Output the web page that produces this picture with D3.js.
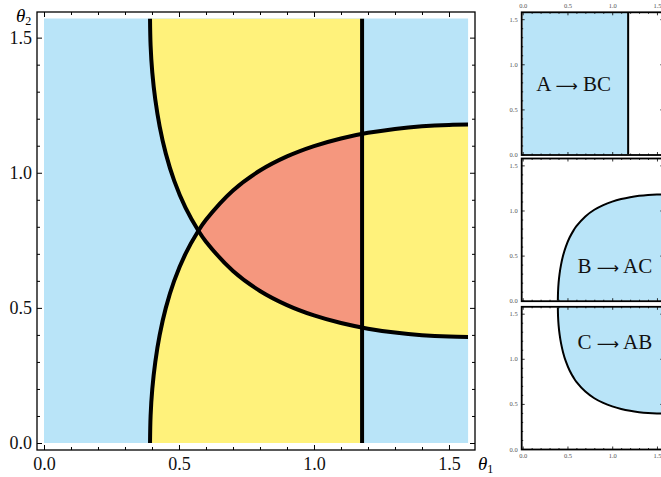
<!DOCTYPE html>
<html>
<head>
<meta charset="utf-8">
<script src="https://cdn.jsdelivr.net/npm/d3@7"></script>
<style>
  html, body { margin: 0; padding: 0; background: #ffffff; }
  svg { display: block; }
</style>
</head>
<body>
<script>
// Decay-channel regions over the two mixing angles (θ1, θ2), both in [0, π/2].
const HALF_PI = Math.PI / 2;

// Boundary of the A → BC region: a vertical line in θ1.
const aTheta1 = 1.1781;

// Boundary of the B → AC region (channel open below/right of this curve).
const bTheta1 = [0.3927, 0.3948, 0.4011, 0.4122, 0.4285, 0.4512, 0.4821, 0.5240, 0.5719, 0.60, 0.70, 0.80, 0.90, 1.00, 1.10, 1.20, 1.30, 1.40, 1.50, 1.5708];
const bTheta2 = [0.0, 0.10, 0.20, 0.30, 0.40, 0.50, 0.60, 0.70, 0.7854, 0.8258, 0.9343, 1.0081, 1.0604, 1.0987, 1.1270, 1.1477, 1.1623, 1.1720, 1.1771, 1.1781];

// Boundary of the C → AB region (channel open above/right of this curve).
const cTheta1 = [0.3927, 0.3948, 0.4011, 0.4122, 0.4285, 0.4512, 0.4821, 0.5240, 0.5719, 0.60, 0.70, 0.80, 0.90, 1.00, 1.10, 1.20, 1.30, 1.40, 1.50, 1.5708];
const cTheta2 = [1.5708, 1.4708, 1.3708, 1.2708, 1.1708, 1.0708, 0.9708, 0.8708, 0.7854, 0.7450, 0.6365, 0.5627, 0.5104, 0.4721, 0.4438, 0.4231, 0.4085, 0.3988, 0.3937, 0.3927];

// Axis ticks
const majorTicks = [0.0, 0.5, 1.0, 1.5];
const majorLabels = ["0.0", "0.5", "1.0", "1.5"];
const minorTicks = [0.1, 0.2, 0.3, 0.4, 0.6, 0.7, 0.8, 0.9, 1.1, 1.2, 1.3, 1.4];

// Channel labels (parent, products) and where they sit inside their panels (θ1, θ2)
const channelParent = ["A", "B", "C"];
const channelProducts = ["BC", "AC", "AB"];
const channelLabelAt = [[0.57, 0.78], [1.03, 0.38], [1.03, 1.18]];

const COL_ONE = "#b9e4f8";    // one channel open
const COL_TWO = "#fff27b";    // two channels open
const COL_THREE = "#f5977e";  // all three channels open
const SERIF = "'Liberation Serif', 'Times New Roman', serif";

const ptsB = bTheta1.map((t, i) => [t, bTheta2[i]]);
const ptsC = cTheta1.map((t, i) => [t, cTheta2[i]]);

const svg = d3.select("body").append("svg")
  .attr("width", 661).attr("height", 477);
const defs = svg.append("defs");

function curveD(pts, xs, ys) {
  return d3.line()
    .x(d => xs(d[0])).y(d => ys(d[1]))
    .curve(d3.curveCatmullRom.alpha(0.5))(pts);
}
// area where B → AC is open: under the B curve
function regionB(xs, ys) {
  return curveD(ptsB, xs, ys) + `L${xs(HALF_PI)},${ys(0)}Z`;
}
// area where C → AB is open: above the C curve
function regionC(xs, ys) {
  return curveD(ptsC, xs, ys) + `L${xs(HALF_PI)},${ys(HALF_PI)}Z`;
}
function clipRect(id, x0, y0, x1, y1) {
  defs.append("clipPath").attr("id", id).append("rect")
    .attr("x", Math.min(x0, x1)).attr("y", Math.min(y0, y1))
    .attr("width", Math.abs(x1 - x0)).attr("height", Math.abs(y1 - y0));
  return `url(#${id})`;
}
function clipPathD(id, d) {
  defs.append("clipPath").attr("id", id).append("path").attr("d", d);
  return `url(#${id})`;
}

// Inward ticks on all four sides of a frame
function frameAxes(g, xs, ys, box, opt) {
  const mk = (axisFn, scale, vals, size, labels, pad) => {
    const a = axisFn(scale).tickValues(vals).tickSizeInner(size).tickSizeOuter(0)
      .tickPadding(pad).tickFormat((d) => labels ? labels[majorTicks.indexOf(d)] : "");
    return a;
  };
  const sides = [
    { fn: d3.axisBottom, sc: xs, tr: `translate(0,${box.y1})`, lab: opt.bottomLabels },
    { fn: d3.axisTop, sc: xs, tr: `translate(0,${box.y0})`, lab: opt.topLabels },
    { fn: d3.axisLeft, sc: ys, tr: `translate(${box.x0},0)`, lab: opt.leftLabels },
    { fn: d3.axisRight, sc: ys, tr: `translate(${box.x1},0)`, lab: false }
  ];
  sides.forEach(s => {
    const major = g.append("g").attr("transform", s.tr)
      .call(mk(s.fn, s.sc, majorTicks, -opt.major, s.lab ? majorLabels : null, opt.pad(s.fn)));
    const minor = g.append("g").attr("transform", s.tr)
      .call(mk(s.fn, s.sc, minorTicks, -opt.minor, null, 0));
    [major, minor].forEach(ax => {
      ax.select(".domain").remove();
      ax.selectAll(".tick line").attr("stroke", "#000").attr("stroke-width", opt.tickWidth);
      ax.selectAll("text").attr("font-family", SERIF).attr("font-size", opt.fontSize)
        .attr("fill", opt.textColor);
    });
  });
  g.append("rect")
    .attr("x", box.x0).attr("y", box.y0)
    .attr("width", box.x1 - box.x0).attr("height", box.y1 - box.y0)
    .attr("fill", "none").attr("stroke", "#000").attr("stroke-width", opt.frameWidth);
}

// ---------------- main chart ----------------
const x = d3.scaleLinear().domain([0, HALF_PI]).range([44, 468.1]);
const y = d3.scaleLinear().domain([0, HALF_PI]).range([443, 18.5]);
const main = svg.append("g");

const mx0 = x(0), mx1 = x(HALF_PI), my0 = y(HALF_PI), my1 = y(0);
const clipDomain = clipRect("main-domain", mx0, my0, mx1, my1);
const clipA = clipRect("main-a", mx0, my0, x(aTheta1), my1);
const clipNotA = clipRect("main-not-a", x(aTheta1), my0, mx1, my1);
const clipB = clipPathD("main-b", regionB(x, y));

main.append("rect").attr("x", mx0).attr("y", my0)
  .attr("width", mx1 - mx0).attr("height", my1 - my0).attr("fill", COL_ONE);

// left of the A boundary: B or C adds a second open channel
const gA = main.append("g").attr("clip-path", clipA);
gA.append("path").attr("d", regionB(x, y)).attr("fill", COL_TWO);
gA.append("path").attr("d", regionC(x, y)).attr("fill", COL_TWO);
// A, B and C all open
gA.append("g").attr("clip-path", clipB)
  .append("path").attr("d", regionC(x, y)).attr("fill", COL_THREE);
// right of the A boundary: B and C together give two channels
main.append("g").attr("clip-path", clipNotA)
  .append("g").attr("clip-path", clipB)
  .append("path").attr("d", regionC(x, y)).attr("fill", COL_TWO);

// boundary lines
const lines = main.append("g").attr("clip-path", clipDomain)
  .attr("fill", "none").attr("stroke", "#000").attr("stroke-width", 4);
lines.append("path").attr("d", curveD(ptsB, x, y));
lines.append("path").attr("d", curveD(ptsC, x, y));
lines.append("line").attr("x1", x(aTheta1)).attr("x2", x(aTheta1))
  .attr("y1", my0).attr("y2", my1);

frameAxes(main, x, y, { x0: 37, x1: 475, y0: 12, y1: 450 }, {
  major: 5, minor: 3, tickWidth: 1, frameWidth: 1.3, fontSize: 18, textColor: "#111",
  bottomLabels: true, topLabels: false, leftLabels: true,
  pad: fn => fn === d3.axisBottom ? 7 : 5
});

// axis titles
const t2 = main.append("text").attr("x", 16).attr("y", 22)
  .attr("font-family", SERIF).attr("font-size", 19);
t2.append("tspan").attr("font-style", "italic").text("\u03b8");
t2.append("tspan").attr("font-size", 12).attr("dy", 3).text("2");
const t1 = main.append("text").attr("x", 478).attr("y", 470)
  .attr("font-family", SERIF).attr("font-size", 19);
t1.append("tspan").attr("font-style", "italic").text("\u03b8");
t1.append("tspan").attr("font-size", 12).attr("dy", 3).text("1");

// ---------------- small panels, one per channel ----------------
const px = d3.scaleLinear().domain([0, HALF_PI]).range([522.7, 663.3]);
const panelRanges = [[154.5, 12.8], [300.7, 159], [449, 307.3]];

panelRanges.forEach((rng, k) => {
  const py = d3.scaleLinear().domain([0, HALF_PI]).range(rng);
  const g = svg.append("g");
  const bx0 = px(0), bx1 = px(HALF_PI), by0 = py(HALF_PI), by1 = py(0);
  const clip = clipRect(`panel-${k}`, bx0, by0, bx1, by1);
  const body = g.append("g").attr("clip-path", clip);
  body.append("rect").attr("x", bx0).attr("y", by0)
    .attr("width", bx1 - bx0).attr("height", by1 - by0).attr("fill", "#fff");

  if (k === 0) {
    body.append("rect").attr("x", bx0).attr("y", by0)
      .attr("width", px(aTheta1) - bx0).attr("height", by1 - by0).attr("fill", COL_ONE);
    body.append("line").attr("x1", px(aTheta1)).attr("x2", px(aTheta1))
      .attr("y1", by0).attr("y2", by1).attr("stroke", "#000").attr("stroke-width", 2);
  } else if (k === 1) {
    body.append("path").attr("d", regionB(px, py)).attr("fill", COL_ONE);
    body.append("path").attr("d", curveD(ptsB, px, py))
      .attr("fill", "none").attr("stroke", "#000").attr("stroke-width", 2);
  } else {
    body.append("path").attr("d", regionC(px, py)).attr("fill", COL_ONE);
    body.append("path").attr("d", curveD(ptsC, px, py))
      .attr("fill", "none").attr("stroke", "#000").attr("stroke-width", 2);
  }

  const at = channelLabelAt[k];
  const lab = g.append("text").attr("x", px(at[0])).attr("y", py(at[1]))
    .attr("dy", "0.33em").attr("text-anchor", "middle")
    .attr("font-family", SERIF).attr("font-size", 21).attr("fill", "#111");
  lab.append("tspan").text(channelParent[k] + " ");
  lab.append("tspan").attr("font-family", "'DejaVu Sans', sans-serif")
    .attr("font-size", 15.5).text("\u27f6");
  lab.append("tspan").text(" " + channelProducts[k]);

  frameAxes(g, px, py, { x0: bx0 - 1, x1: bx1, y0: by0 - 0.5, y1: by1 + 0.5 }, {
    major: 3, minor: 1.5, tickWidth: 0.8, frameWidth: 1.8, fontSize: 6.5, textColor: "#555",
    bottomLabels: k === 2, topLabels: k === 0, leftLabels: true,
    pad: fn => fn === d3.axisLeft ? 4 : 4
  });
});
</script>
</body>
</html>
